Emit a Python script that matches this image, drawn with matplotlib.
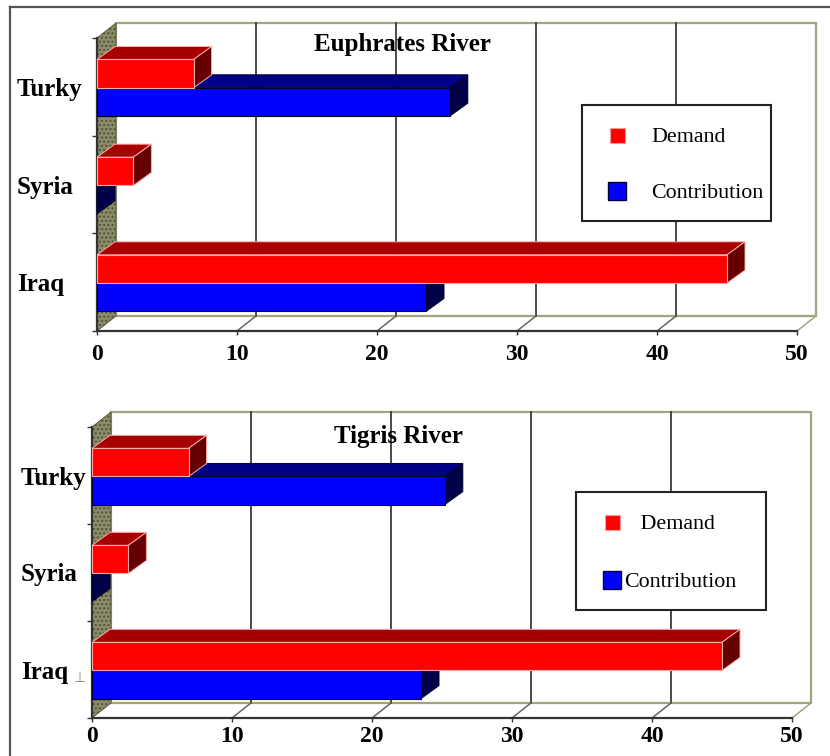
import matplotlib
matplotlib.use("Agg")
import matplotlib.pyplot as plt
from matplotlib.patches import Polygon, Rectangle
from matplotlib.lines import Line2D
from matplotlib.legend_handler import HandlerLine2D

# ---------------- data ----------------
categories = ["Iraq", "Syria", "Turky"]          # bottom -> top
series_names = ["Demand", "Contribution"]
euphrates_demand = [45.0, 2.6, 6.9]
euphrates_contribution = [23.5, 0.0, 25.2]
tigris_demand = [45.0, 2.6, 6.9]
tigris_contribution = [23.5, 0.0, 25.2]
x_ticks = [0, 10, 20, 30, 40, 50]
titles = ["Euphrates River", "Tigris River"]

plt.rcParams["font.family"] = ["Liberation Serif", "DejaVu Serif"]

W, H = 830, 756
fig = plt.figure(figsize=(W / 100, H / 100), dpi=100)
fig.patch.set_facecolor("white")

OLIVE = "#a3a37f"
DARK = "#333333"
RED = dict(front="#ff0000", top="#a80000", side="#660000", edge="#ffaaaa")
BLUE = dict(front="#0000ff", top="#000088", side="#000048", edge="#000028")
LEG_FS = 15.8                      # points
FS_PX = LEG_FS * 100 / 72          # pixels


class CenteredMarkerHandler(HandlerLine2D):
    """Line2D legend handler whose marker sits level with the label text."""
    def create_artists(self, legend, orig_handle, xdescent, ydescent, width, height, fontsize, trans):
        return super().create_artists(legend, orig_handle, xdescent, ydescent + 8.0,
                                      width, height, fontsize, trans)


def px_axes(x0, y0, x1, y1):
    return fig.add_axes([x0 / W, 1 - y1 / H, (x1 - x0) / W, (y1 - y0) / H])


def draw_bar(ax, value, y0, h, col, bdx, bdy, z):
    top = Polygon([(0, y0 + h), (value, y0 + h), (value + bdx, y0 + h + bdy), (bdx, y0 + h + bdy)],
                  closed=True, facecolor=col["top"], edgecolor=col["edge"], lw=0.7, zorder=z, clip_on=False)
    side = Polygon([(value, y0), (value + bdx, y0 + bdy), (value + bdx, y0 + h + bdy), (value, y0 + h)],
                   closed=True, facecolor=col["side"], edgecolor=col["edge"], lw=0.7, zorder=z, clip_on=False)
    front = Rectangle((0, y0), value, h, facecolor=col["front"], edgecolor=col["edge"], lw=0.8,
                      zorder=z + 0.01, clip_on=False)
    ax.add_patch(top)
    ax.add_patch(side)
    ax.add_patch(front)


def draw_panel(rect, title, demand, contrib, label_pad_px, xpad, title_xy, leg, extra_mark=None):
    x0, y0, x1, y1 = rect
    ax = px_axes(x0, y0, x1, y1)
    xmax = x_ticks[-1]
    ncat = len(categories)
    ax.set_xlim(0, xmax)
    ax.set_ylim(0, ncat)
    ax.patch.set_visible(False)
    sx = (x1 - x0) / xmax
    sy = (y1 - y0) / ncat
    dx, dy = 19 / sx, 15 / sy          # wall depth
    bdx, bdy = 18 / sx, 13 / sy        # bar depth

    # back wall
    ax.add_patch(Rectangle((dx, dy), xmax, ncat, facecolor="white", edgecolor=OLIVE, lw=1.6,
                           zorder=0.5, clip_on=False))
    for v in x_ticks[1:-1]:
        ax.plot([v + dx, v + dx], [dy, ncat + dy], color="#3a3a3a", lw=1.3, zorder=0.6, clip_on=False)
    for v in x_ticks[1:]:
        ax.plot([v, v + dx], [0, dy], color=("#666666" if v < xmax else OLIVE), lw=1.1,
                zorder=0.6, clip_on=False)
    # left wall
    ax.add_patch(Polygon([(0, 0), (dx, dy), (dx, ncat + dy), (0, ncat)], closed=True,
                         facecolor="#8c8c68", edgecolor="#50503a", hatch="....", lw=0.6,
                         zorder=0.8, clip_on=False))

    # bars (bottom category first; contribution below demand)
    for i in range(ncat):
        draw_bar(ax, contrib[i], i + 0.20, 0.29, BLUE, bdx, bdy, 3 + i * 0.1)
        draw_bar(ax, demand[i], i + 0.49, 0.29, RED, bdx, bdy, 3 + i * 0.1 + 0.05)

    # spines / ticks
    for s in ("top", "right"):
        ax.spines[s].set_visible(False)
    for s in ("left", "bottom"):
        ax.spines[s].set_color(DARK)
        ax.spines[s].set_linewidth(1.6)
        ax.spines[s].set_zorder(2)
    ax.set_xticks(x_ticks)
    ax.set_xticklabels([str(v) for v in x_ticks], fontsize=17, fontweight="bold")
    ax.tick_params(axis="x", length=3, width=1, color=DARK, pad=xpad)
    ax.set_yticks([i + 0.5 for i in range(ncat)])
    ax.set_yticklabels(categories, fontsize=18, fontweight="bold")
    ax.set_yticks(list(range(ncat + 1)), minor=True)
    ax.tick_params(axis="y", which="major", length=0, pad=label_pad_px * 0.72)
    ax.tick_params(axis="y", which="minor", length=3.6, width=1, color=DARK)
    for lbl in ax.get_yticklabels():
        lbl.set_horizontalalignment("left")

    # title inside plot
    fig.text(title_xy[0] / W, 1 - title_xy[1] / H, title, ha="center", va="center",
             fontsize=18, fontweight="bold")

    # legend
    handles = [Line2D([], [], ls="none", marker="s", markersize=leg["ms"][0],
                      markerfacecolor=RED["front"], markeredgecolor="#ff9a9a", markeredgewidth=0.8),
               Line2D([], [], ls="none", marker="s", markersize=leg["ms"][1],
                      markerfacecolor=BLUE["front"], markeredgecolor="#000040", markeredgewidth=1.0)]
    lx0, ly0, lx1, ly1 = leg["box"]
    lg = ax.legend(handles, leg["labels"], loc="upper left", mode="expand",
                   bbox_to_anchor=(lx0 / W, 1 - ly1 / H, (lx1 - lx0) / W, (ly1 - ly0) / H),
                   bbox_transform=fig.transFigure, borderaxespad=0, fontsize=LEG_FS,
                   frameon=True, fancybox=False, numpoints=1,
                   handler_map={Line2D: CenteredMarkerHandler()},
                   edgecolor="#222222", framealpha=1, borderpad=12 / FS_PX,
                   labelspacing=leg["spacing"] / FS_PX,
                   handlelength=leg["hl"] / FS_PX, handleheight=2.15,
                   handletextpad=leg["tp"] / FS_PX)
    lg.get_frame().set_linewidth(1.5)
    lg.set_zorder(10)

    if extra_mark is not None:
        fig.text(extra_mark[0] / W, 1 - extra_mark[1] / H, "\u22a5", fontsize=10, color="#888888",
                 ha="center", va="center", family="DejaVu Sans")
    return ax


draw_panel((97, 38, 797, 331), titles[0], euphrates_demand, euphrates_contribution,
           label_pad_px=80, xpad=6, title_xy=(402, 45),
           leg=dict(box=(582, 105, 771, 220), labels=series_names, ms=(10.8, 12.5),
                    hl=46, tp=11, spacing=20))
draw_panel((92, 427, 792, 718), titles[1], tigris_demand, tigris_contribution,
           label_pad_px=71, xpad=3, title_xy=(398, 436),
           leg=dict(box=(576, 492, 766, 608), labels=["   " + series_names[0], series_names[1]],
                    ms=(10.8, 12.5), hl=47, tp=-11, spacing=22),
           extra_mark=(80, 678))

# outer frame lines
fig.add_artist(Line2D([10 / W, 1], [1 - 7 / H, 1 - 7 / H], color="#555555", lw=1.6))
fig.add_artist(Line2D([10 / W, 10 / W], [1 - 7 / H, 0], color="#555555", lw=1.6))

fig.savefig("out.png", dpi=100, facecolor="white")
